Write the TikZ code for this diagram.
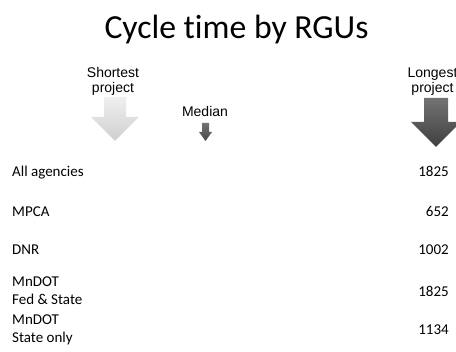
\documentclass[tikz,border=0pt]{standalone}
\usepackage{fontspec}
\setmainfont[Ligatures=NoCommon]{Carlito}
\newfontfamily\labelfont{Liberation Sans}
\usetikzlibrary{positioning}

\begin{document}
\begin{tikzpicture}[
    x=1pt, y=-1pt,
    heading/.style={
        font=\fontsize{33.7}{40}\selectfont,
        anchor=base,
        inner sep=0pt
    },
    arrowlabel/.style={
        font=\labelfont\fontsize{14}{15}\selectfont,
        align=center,
        anchor=base,
        inner sep=0pt
    },
    agency/.style={
        font=\fontsize{15}{18.5}\selectfont,
        align=left,
        anchor=base west,
        inner sep=0pt
    },
    days/.style={
        font=\fontsize{15}{18}\selectfont,
        anchor=base east,
        inner sep=0pt
    },
    shortarrow/.style={top color=gray!12, bottom color=gray!38},
    medianarrow/.style={top color=black!55, bottom color=black!72},
    longarrow/.style={top color=black!55, bottom color=black!75}
]
    \useasboundingbox (0,0) rectangle (456,352);

    % Define nodes (two-line nodes sit on their last line)
    \node[heading] (title) at (236.5,38.5) {Cycle time by RGUs};

    \node[arrowlabel] (shortest) at (113,93) {Shortest\\project};
    \node[arrowlabel] (median) at (205,117) {Median};
    \node[arrowlabel] (longest) at (432.5,93) {Longest\\project};

    \node[agency] (all) at (12,176.7) {All agencies};
    \node[agency] (mpca) at (12,216.7) {MPCA};
    \node[agency] (dnr) at (12,255) {DNR};
    \node[agency] (fedstate) at (12,305) {MnDOT\\Fed \& State};
    \node[agency] (stateonly) at (12,343) {MnDOT\\State only};

    \node[days] (allDays) at (449,176.7) {1825};
    \node[days] (mpcaDays) at (449,216.7) {652};
    \node[days] (dnrDays) at (449,255) {1002};
    \node[days] (fedstateDays) at (449,296.3) {1825};
    \node[days] (stateonlyDays) at (449,334.5) {1134};

    % Down arrows
    \shade[shortarrow] (104,97) -- (126,97) -- (126,117) -- (139,117)
        -- (115,141) -- (91,117) -- (104,117) -- cycle;
    \shade[medianarrow] (202,123) -- (209,123) -- (209,132) -- (212,132)
        -- (205.5,141) -- (199,132) -- (202,132) -- cycle;
    \shade[longarrow] (424,98) -- (448,98) -- (448,122) -- (461,122)
        -- (436,147) -- (411,122) -- (424,122) -- cycle;
\end{tikzpicture}
\end{document}
